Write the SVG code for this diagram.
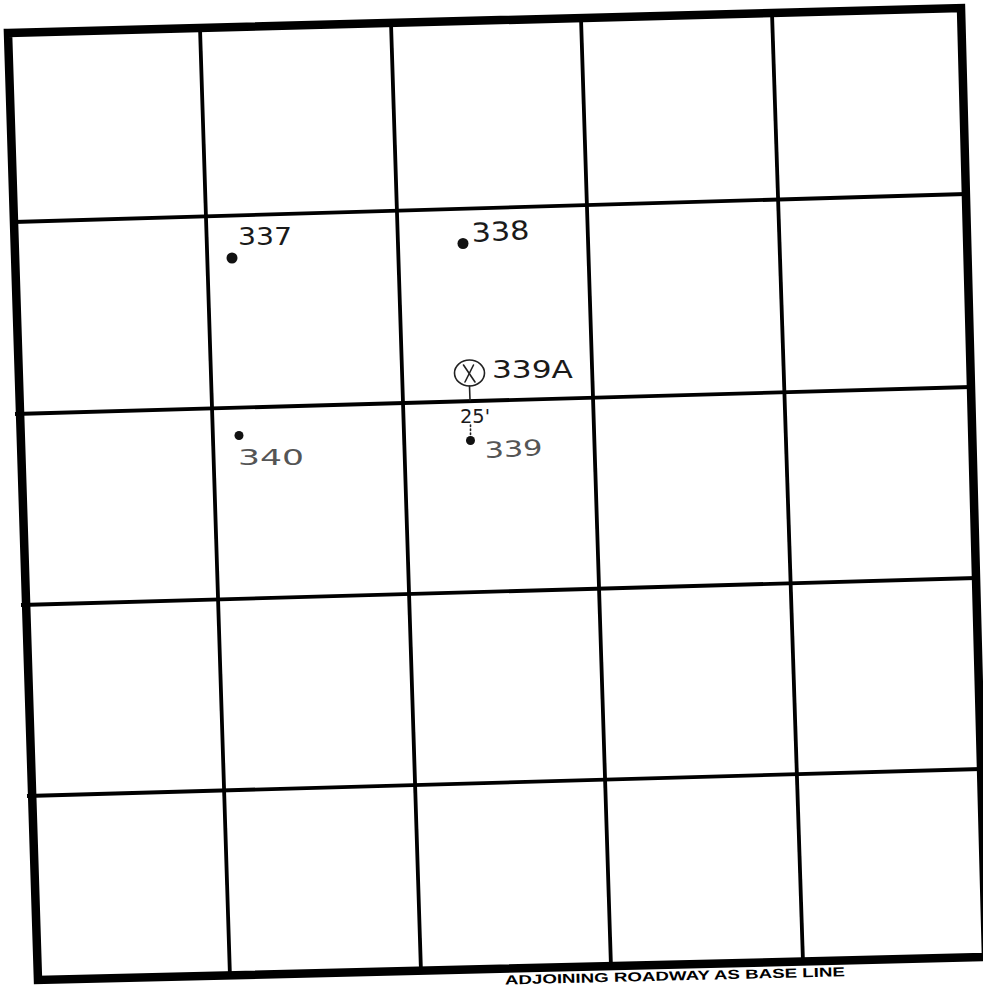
<svg xmlns="http://www.w3.org/2000/svg" width="983" height="987" viewBox="0 0 983 987">
<style>
.border{fill:none;stroke:#000;stroke-width:8.5;stroke-linejoin:miter}
.grid line{stroke:#000;stroke-width:3.8;stroke-linecap:butt}
.dot{fill:#111}
.hand{font-family:"DejaVu Sans","Liberation Sans",sans-serif;fill:#1a1a1a}
.faint{fill:#555}
.base{font-family:"Liberation Sans",Arial,sans-serif;font-weight:bold;fill:#000}
.pen{fill:none;stroke:#222;stroke-width:1.6;stroke-linecap:round}
</style>
<rect width="983" height="987" fill="#fff"/>
<g id="grid" class="grid">
<line x1="14" y1="222" x2="966" y2="194"/>
<line x1="15" y1="414" x2="971" y2="387"/>
<line x1="21" y1="605" x2="976" y2="578"/>
<line x1="27" y1="796" x2="981" y2="769"/>
<line x1="200" y1="28" x2="230" y2="977"/>
<line x1="391" y1="23" x2="421" y2="972"/>
<line x1="581" y1="18" x2="611" y2="967"/>
<line x1="772" y1="13" x2="803" y2="962"/>
</g>
<polygon id="border" class="border" points="8,33 961,8 986,957 38,980"/>
<g id="p337">
<circle class="dot" cx="232" cy="258" r="5.5"/>
<text class="hand" x="238" y="245" font-size="24" textLength="54" lengthAdjust="spacingAndGlyphs">337</text>
</g>
<g id="p338">
<circle class="dot" cx="463" cy="243.5" r="5.5"/>
<text class="hand" x="472" y="242" font-size="26" textLength="58" lengthAdjust="spacingAndGlyphs" transform="rotate(-3 472 242)">338</text>
</g>
<g id="p339A">
<ellipse class="pen" cx="469.5" cy="373" rx="15" ry="13"/>
<line class="pen" x1="463.5" y1="365" x2="475" y2="382"/>
<line class="pen" x1="473.5" y1="365" x2="465" y2="382"/>
<text class="hand" x="492" y="378" font-size="24" textLength="81" lengthAdjust="spacingAndGlyphs">339A</text>
</g>
<g id="connectors">
<line class="pen" x1="469.5" y1="386" x2="470" y2="400"/>
<line class="pen" x1="470.5" y1="425" x2="470.5" y2="436" stroke-dasharray="1.5 2.5"/>
</g>
<g id="dist25">
<text class="hand" x="460" y="423" font-size="20" textLength="30" lengthAdjust="spacingAndGlyphs">25'</text>
</g>
<g id="p339">
<circle class="dot" cx="470.5" cy="440.5" r="4.5"/>
<text class="hand faint" x="485" y="458" font-size="22" textLength="58" lengthAdjust="spacingAndGlyphs" transform="rotate(-3 485 458)">339</text>
</g>
<g id="p340">
<circle class="dot" cx="239" cy="435.5" r="4.5"/>
<text class="hand faint" x="238" y="465" font-size="22" textLength="66" lengthAdjust="spacingAndGlyphs">340</text>
</g>
<text class="base" x="505" y="984.5" font-size="13" textLength="340" lengthAdjust="spacingAndGlyphs" transform="rotate(-1.4 505 984.5)">ADJOINING ROADWAY AS BASE LINE</text>
</svg>
